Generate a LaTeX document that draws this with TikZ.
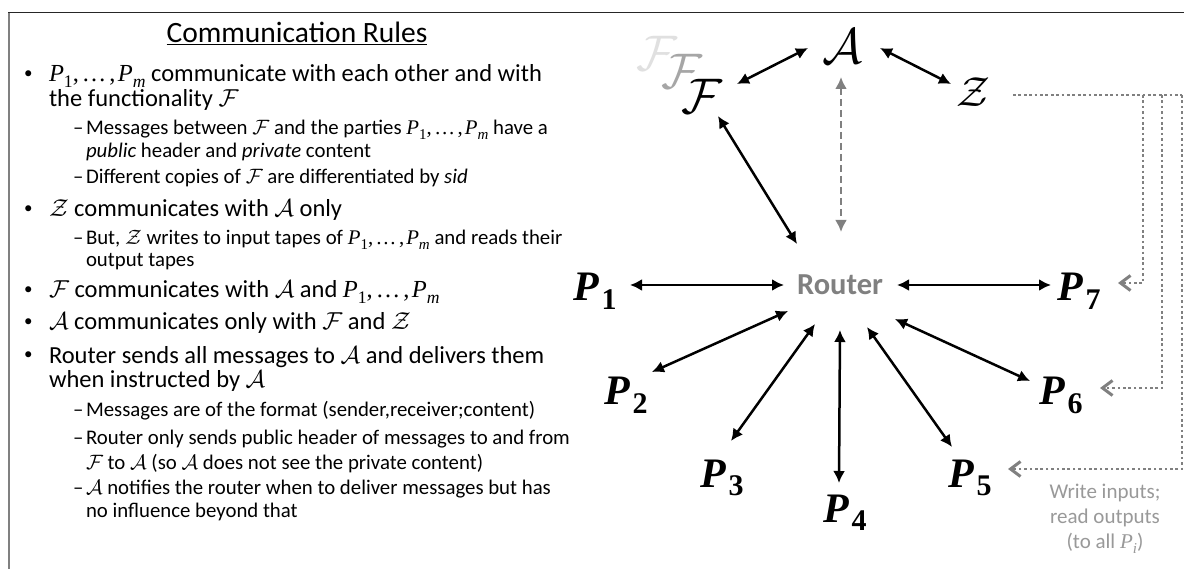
\documentclass[tikz,border=0pt]{standalone}
\usepackage{fix-cm}
\usepackage{fontspec}
\setmainfont{Carlito}
\newfontfamily\mf{Liberation Serif}
\usetikzlibrary{arrows.meta,calc}
\newcommand{\subs}[1]{\raisebox{-.24em}{\scalebox{.72}{#1}}}
\newcommand{\Pone}{{\mf\itshape P}\subs{\mf 1}}
\newcommand{\Pem}{{\mf\itshape P}\subs{\mf\itshape m}}
\newcommand{\Prange}{\Pone{\mf,\kern.12em…\kern.12em,\kern.1em}\Pem}
\newcommand{\cF}{$\mathcal{F}$}
\newcommand{\cA}{$\mathcal{A}$}
\newcommand{\cZ}{$\mathcal{Z}$}
\newcommand{\bigP}[1]{{\mf\bfseries\itshape P}\kern3pt\raisebox{-.2em}{\fontsize{30}{30}\selectfont\mf\bfseries #1}}
\definecolor{grayA}{gray}{0.5}
\definecolor{grayB}{gray}{0.6}
\tikzset{
  every node/.style={inner sep=0pt,outer sep=0pt},
  headline/.style={anchor=base,font=\fontsize{29.5}{30}\selectfont},
  mainline/.style={anchor=base west,font=\fontsize{24.5}{28}\selectfont},
  subline/.style={anchor=base west,font=\fontsize{20.8}{24}\selectfont},
  bulletmark/.style={anchor=base west,font=\fontsize{17}{17}\selectfont},
  party/.style={anchor=base west,font=\fontsize{42}{42}\selectfont},
  script/.style={font=\fontsize{50}{50}\selectfont},
  both/.style={line width=2.5pt,black,{Latex[length=12pt,width=12pt]}-{Latex[length=12pt,width=12pt]}},
  ctrl/.style={line width=2.5pt,grayA,dash pattern=on 7pt off 4pt,{Latex[length=12pt,width=12pt]}-{Latex[length=12pt,width=12pt]}},
  tape/.style={line width=2.7pt,grayA,dash pattern=on 2.7pt off 2.7pt},
  tapearrow/.style={tape,-{Straight Barb[length=10pt,width=15pt,line width=3pt]}},
  note/.style={anchor=base,text=grayB,font=\fontsize{21}{21}\selectfont}
}
\begin{document}
\begin{tikzpicture}[x=1pt,y=-1pt]
\useasboundingbox (0,0) rectangle (1184,569);
\fill[white] (0,0) rectangle (1184,569);
\draw[line width=2.4pt,grayA] (9,569) -- (9,12.5);
\draw[line width=1.4pt,black!85] (8,12.5) -- (1184,12.5);

\node[headline] (title) at (297,43) {\underline{Communication Rules}};

\node[bulletmark] (b1) at (24,79) {•};
\node[mainline] (t1) at (49,82) {\Prange{} communicate with each other and with};
\node[mainline] (t1b) at (49,107) {the functionality \cF};
\node[subline] (d1) at (73,135) {–};
\node[subline] (t2) at (86,135) {Messages between \cF{} and the parties \Prange{} have a};
\node[subline] (t2b) at (86,158) {\textit{public} header and \textit{private} content};
\node[subline] (d2) at (73,184) {–};
\node[subline] (t3) at (86,184) {Different copies of \cF{} are differentiated by \textit{sid}};
\node[bulletmark] (b2) at (24,214) {•};
\node[mainline] (t4) at (49,217) {\cZ{} communicates with \cA{} only};
\node[subline] (d3) at (73,245) {–};
\node[subline] (t5) at (86,245) {But, \cZ{} writes to input tapes of \Prange{} and reads their};
\node[subline] (t5b) at (86,267) {output tapes};
\node[bulletmark] (b3) at (24,295) {•};
\node[mainline] (t6) at (49,298) {\cF{} communicates with \cA{} and \Prange};
\node[bulletmark] (b4) at (24,327) {•};
\node[mainline] (t7) at (49,330) {\cA{} communicates only with \cF{} and \cZ};
\node[bulletmark] (b5) at (24,360) {•};
\node[mainline] (t8) at (49,363) {Router sends all messages to \cA{} and delivers them};
\node[mainline] (t8b) at (49,388) {when instructed by \cA};
\node[subline] (d4) at (73,417) {–};
\node[subline] (t9) at (86,417) {Messages are of the format (sender,receiver;content)};
\node[subline] (d5) at (73,444) {–};
\node[subline] (t10) at (86,444) {Router only sends public header of messages to and from};
\node[subline] (t10b) at (86,469) {\cF{} to \cA{} (so \cA{} does not see the private content)};
\node[subline] (d6) at (73,494) {–};
\node[subline] (t11) at (86,494) {\cA{} notifies the router when to deliver messages but has};
\node[subline] (t11b) at (86,517) {no influence beyond that};

\node[script,text=black!12] (f3) at (657,53) {$\mathcal{F}$};
\node[script,text=black!35] (f2) at (682,71) {$\mathcal{F}$};
\node[script] (f) at (702,96) {$\mathcal{F}$};
\node[script] (a) at (842,46) {$\mathcal{A}$};
\node[script,font=\fontsize{42}{42}\selectfont] (z) at (973,92) {$\mathcal{Z}$};
\node[anchor=center,text=grayA,font=\fontsize{30.5}{30}\selectfont\bfseries] (router) at (840,285) {Router};

\node[party] (p1) at (573,301) {\bigP{1}};
\node[party] (p2) at (604,405) {\bigP{2}};
\node[party] (p3) at (700,487) {\bigP{3}};
\node[party] (p4) at (823,522) {\bigP{4}};
\node[party] (p5) at (948,487) {\bigP{5}};
\node[party] (p6) at (1039,405) {\bigP{6}};
\node[party] (p7) at (1057,301) {\bigP{7}};

\draw[both] ($(f)+(35,-12)$) -- ($(a)+(-34,2)$);
\draw[both] ($(a)+(38,2)$) -- ($(z)+(-22,-8)$);
\draw[both] ($(f)+(16,20)$) -- ($(router)+(-43,-41)$);
\draw[ctrl] ($(a)+(-1,31)$) -- ($(router)+(1,-53)$);
\draw[both] ($(router)+(-56,0)$) -- ($(p1.base west)+(57,-16)$);
\draw[both] ($(router)+(-52,26)$) -- ($(p2.base west)+(48,-33)$);
\draw[both] ($(router)+(-25,39)$) -- ($(p3.base west)+(31,-46)$);
\draw[both] ($(router)+(0,45)$) -- ($(p4.base west)+(16,-39)$);
\draw[both] ($(router)+(27,42)$) -- ($(p5.base west)+(4,-40)$);
\draw[both] ($(router)+(55,34)$) -- ($(p6.base west)+(-9,-24)$);
\draw[both] ($(router)+(57,0)$) -- ($(p7.base west)+(-6,-16)$);

\coordinate (j1) at (1143,95);
\coordinate (j2) at (1162,95);
\coordinate (j3) at (1182,95);
\draw[tape] ($(z)+(40,3)$) -- (j3);
\draw[tapearrow] (j1) -- ($(j1 |- p7.base west)+(0,-18)$) -- ($(p7.base west)+(61,-18)$);
\draw[tapearrow] (j2) -- ($(j2 |- p6.base west)+(0,-17)$) -- ($(p6.base west)+(61,-17)$);
\draw[tapearrow] (j3) -- ($(j3 |- p5.base west)+(0,-18)$) -- ($(p5.base west)+(60,-18)$);

\node[note] (w1) at (1105,498) {Write inputs;};
\node[note] (w2) at (1105,523) {read outputs};
\node[note] (w3) at (1105,548) {(to all {\mf\itshape P}\subs{\mf\itshape i})};
\end{tikzpicture}
\end{document}
